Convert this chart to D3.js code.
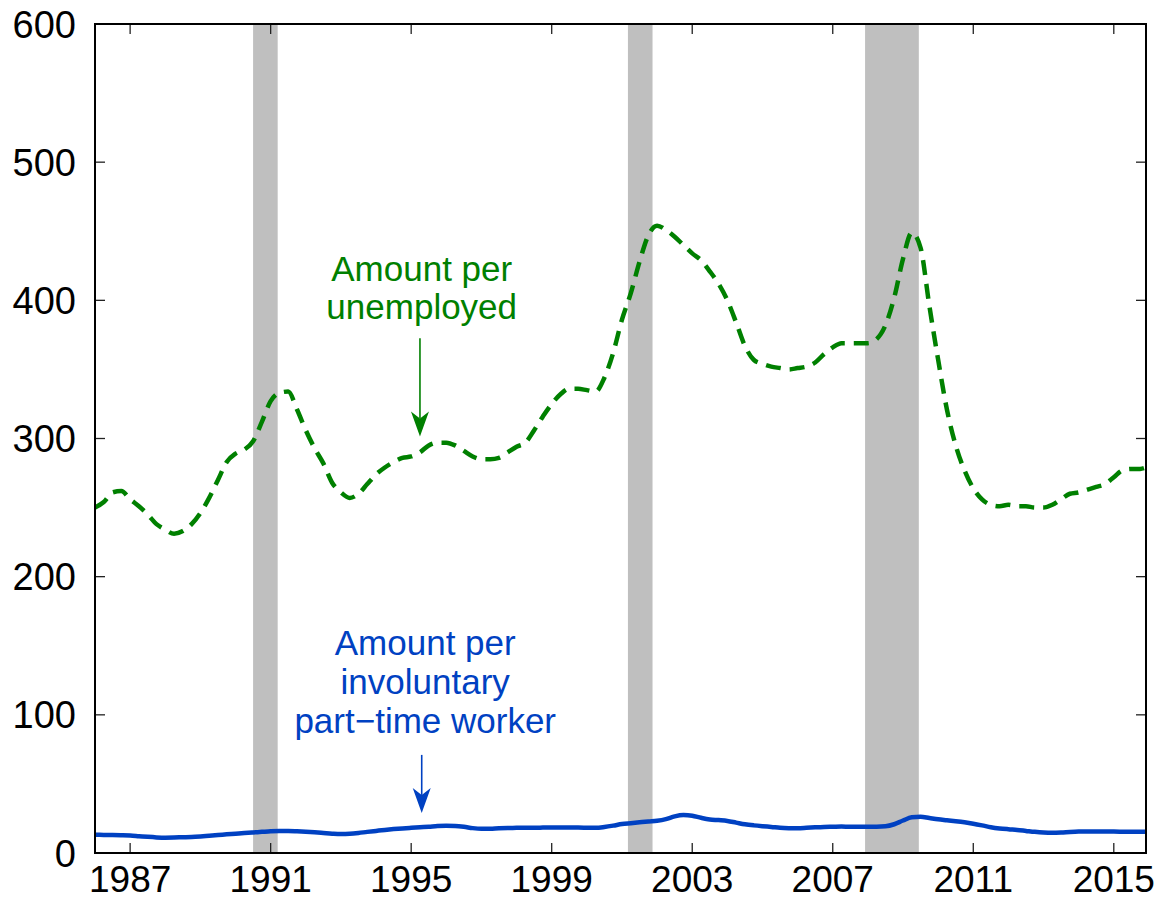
<!DOCTYPE html>
<html>
<head>
<meta charset="utf-8">
<script src="https://cdn.jsdelivr.net/npm/d3@7"></script>
<style>
  body { margin: 0; background: #fff; }
  text { font-family: "Liberation Sans", Arial, Helvetica, sans-serif; }
</style>
</head>
<body>
<svg id="chart" width="1164" height="901"></svg>
<script>
// ---- data (quarterly, 1986Q1 .. 2015Q4, plus Dec 2015) ----
const dates = d3.range(1986, 2016, 0.25).concat([2015 + 11 / 12]);

const perUnemployed = [
  250, 254, 261, 262,   256, 251, 245, 238,   234, 231, 233, 238,
  246, 257, 270, 283,   289, 292, 298, 312,   327, 333, 334, 321,
  306, 293, 282, 268,   261, 257, 260, 267,   274, 279, 283, 286,
  287, 290, 295, 297,   297, 295, 291, 287,   285, 285, 286, 290,
  294, 297, 306, 316,   325, 332, 336, 336,   335, 334, 344, 362,
  386, 405, 428, 447,   454, 451, 446, 440,   434, 429, 421, 412,
  400, 384, 367, 357,   354, 352, 351, 350,   351, 352, 355, 361,
  366, 369, 369, 369,   369, 372, 382, 402,   430, 449, 438, 396,
  357, 321, 295, 277,   264, 256, 252, 251,   252, 251, 251, 250,
  250, 252, 256, 260,   261, 263, 265, 267,   272, 277, 278, 278,
  279
];

const perPartTime = [
  13.2, 13.1, 13.0, 12.9,   12.7, 12.2, 11.7, 11.3,   11.1, 11.2, 11.4, 11.6,
  12.0, 12.5, 13.0, 13.5,   14.0, 14.5, 14.9, 15.3,   15.7, 15.9, 15.9, 15.7,
  15.4, 15.0, 14.5, 14.0,   13.7, 13.9, 14.5, 15.3,   16.0, 16.7, 17.3, 17.8,
  18.2, 18.6, 19.0, 19.5,   19.7, 19.6, 19.0, 18.0,   17.5, 17.6, 17.9, 18.1,
  18.2, 18.3, 18.3, 18.4,   18.5, 18.5, 18.4, 18.4,   18.3, 18.2, 18.8, 19.8,
  21.0, 21.6, 22.2, 22.8,   23.3, 24.5, 26.5, 27.5,   27.0, 25.5, 24.3, 23.8,
  23.2, 22.0, 20.8, 20.0,   19.4, 18.9, 18.3, 18.0,   17.9, 18.2, 18.6, 18.9,
  19.0, 19.1, 19.0, 19.0,   19.0, 19.0, 19.3, 20.8,   23.5, 25.8, 26.2, 25.3,
  24.4, 23.7, 23.0, 22.2,   21.2, 20.0, 18.7, 17.8,   17.2, 16.7, 16.0, 15.3,
  14.8, 14.6, 14.8, 15.2,   15.5, 15.6, 15.6, 15.5,   15.5, 15.4, 15.3, 15.3,
  15.3
];

// recessions: start, end (decimal years)
const recessionStart = [1990.5, 2001.17, 2007.92];
const recessionEnd   = [1991.2, 2001.87, 2009.45];

const xTicks = [1987, 1991, 1995, 1999, 2003, 2007, 2011, 2015];
const yTicks = [0, 100, 200, 300, 400, 500, 600];

// ---- layout ----
const svg = d3.select('#chart');
const W = 1164, H = 901;
const margin = {top: 24, right: 18, bottom: 48, left: 95};
const iw = W - margin.left - margin.right;
const ih = H - margin.top - margin.bottom;

const x = d3.scaleLinear().domain([1986, 2015 + 11 / 12]).range([0, iw]);
const y = d3.scaleLinear().domain([0, 600]).range([ih, 0]);

const g = svg.append('g').attr('transform', `translate(${margin.left},${margin.top})`);

svg.append('defs').append('clipPath').attr('id', 'plotclip')
  .append('rect').attr('width', iw).attr('height', ih);

// recession shading
g.selectAll('rect.rec')
  .data(recessionStart.map((s, i) => ({s, e: recessionEnd[i]})))
  .join('rect')
  .attr('class', 'rec')
  .attr('x', d => x(d.s)).attr('y', 0)
  .attr('width', d => x(d.e) - x(d.s)).attr('height', ih)
  .attr('fill', '#bfbfbf');

// lines
const line = vals => d3.line()
  .x((d, i) => x(dates[i]))
  .y(d => y(d))
  .curve(d3.curveMonotoneX)(vals);

const plot = g.append('g').attr('clip-path', 'url(#plotclip)');

plot.append('path')
  .attr('d', line(perUnemployed))
  .attr('fill', 'none')
  .attr('stroke', '#008000')
  .attr('stroke-width', 4.5)
  .attr('stroke-dasharray', '15,9');

plot.append('path')
  .attr('d', line(perPartTime))
  .attr('fill', 'none')
  .attr('stroke', '#0041c2')
  .attr('stroke-width', 4.5);

// ticks (inward, on all four sides)
const tickLen = 10;
const ticks = g.append('g').attr('stroke', '#222').attr('stroke-width', 1.3);
xTicks.forEach(t => {
  ticks.append('line').attr('x1', x(t)).attr('x2', x(t)).attr('y1', ih).attr('y2', ih - tickLen);
  ticks.append('line').attr('x1', x(t)).attr('x2', x(t)).attr('y1', 0).attr('y2', tickLen);
});
yTicks.forEach(t => {
  ticks.append('line').attr('x1', 0).attr('x2', tickLen).attr('y1', y(t)).attr('y2', y(t));
  ticks.append('line').attr('x1', iw).attr('x2', iw - tickLen).attr('y1', y(t)).attr('y2', y(t));
});

// frame
g.append('rect')
  .attr('width', iw).attr('height', ih)
  .attr('fill', 'none').attr('stroke', '#000').attr('stroke-width', 2);

// tick labels
g.selectAll('text.ylab').data(yTicks).join('text')
  .attr('class', 'ylab')
  .attr('x', -19).attr('y', d => y(d) + 13.5)
  .attr('text-anchor', 'end')
  .style('font-size', '38px')
  .text(d => d);

g.selectAll('text.xlab').data(xTicks).join('text')
  .attr('class', 'xlab')
  .attr('x', d => x(d)).attr('y', ih + 39)
  .attr('text-anchor', 'middle')
  .style('font-size', '37px')
  .text(d => d);

// annotations
function arrow(color, xv, yFrom, yTo) {
  const ax = x(xv), y0 = y(yFrom), y1 = y(yTo);
  g.append('line')
    .attr('x1', ax).attr('x2', ax).attr('y1', y0).attr('y2', y1 - 18)
    .attr('stroke', color).attr('stroke-width', 1.6);
  g.append('path')
    .attr('d', `M${ax},${y1} L${ax - 9},${y1 - 25} L${ax},${y1 - 18} L${ax + 9},${y1 - 25} Z`)
    .attr('fill', color);
}

const greenLabel = ['Amount per', 'unemployed'];
g.selectAll('text.glab').data(greenLabel).join('text')
  .attr('class', 'glab')
  .attr('x', x(1995.3)).attr('y', (d, i) => y(414) + i * 38)
  .attr('text-anchor', 'middle')
  .attr('fill', '#008000')
  .style('font-size', '35px')
  .text(d => d);
arrow('#008000', 1995.25, 372.6, 301.5);

const blueLabel = ['Amount per', 'involuntary', 'part\u2212time worker'];
g.selectAll('text.blab').data(blueLabel).join('text')
  .attr('class', 'blab')
  .attr('x', x(1995.4)).attr('y', (d, i) => y(143.3) + i * 39)
  .attr('text-anchor', 'middle')
  .attr('fill', '#0041c2')
  .style('font-size', '35px')
  .text(d => d);
arrow('#0041c2', 1995.3, 71, 29);
</script>
</body>
</html>
